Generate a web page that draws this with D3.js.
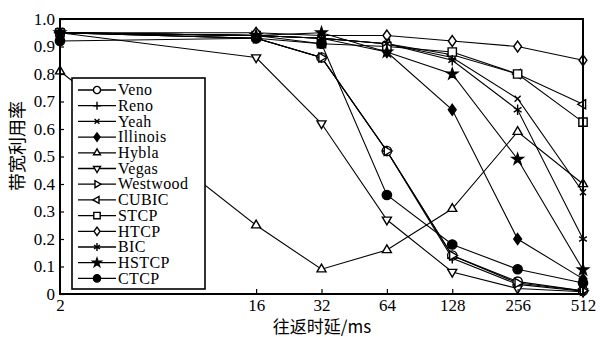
<!DOCTYPE html>
<html>
<head>
<meta charset="utf-8">
<script src="https://cdn.jsdelivr.net/npm/d3@7"></script>
<style>
  html, body { margin: 0; padding: 0; background: #fff; }
  svg { display: block; }
</style>
</head>
<body>
<svg id="chart" width="600" height="337"></svg>
<script>
// Round-trip delay (ms) sampled for each congestion-control algorithm
const delays = [2, 16, 32, 64, 128, 256, 512];
const xTickValues = [2, 16, 32, 64, 128, 256, 512];
const yTickValues = [0, 0.1, 0.2, 0.3, 0.4, 0.5, 0.6, 0.7, 0.8, 0.9, 1.0];

const algorithms = ["Veno", "Reno", "Yeah", "Illinois", "Hybla", "Vegas", "Westwood",
                    "CUBIC", "STCP", "HTCP", "BIC", "HSTCP", "CTCP"];

// Bandwidth utilisation for each algorithm, one value per delay
const veno     = [0.95, 0.93, 0.86, 0.52, 0.14, 0.045, 0.012];
const reno     = [0.95, 0.93, 0.86, 0.52, 0.13, 0.035, 0.010];
const yeah     = [0.95, 0.94, 0.93, 0.91, 0.86, 0.71, 0.37];
const illinois = [0.95, 0.94, 0.93, 0.88, 0.67, 0.20, 0.055];
const hybla    = [0.81, 0.25, 0.09, 0.16, 0.31, 0.59, 0.40];
const vegas    = [0.95, 0.86, 0.62, 0.27, 0.08, 0.02, 0.008];
const westwood = [0.95, 0.93, 0.86, 0.52, 0.14, 0.04, 0.012];
const cubic    = [0.95, 0.94, 0.93, 0.91, 0.87, 0.80, 0.69];
const stcp     = [0.95, 0.94, 0.91, 0.90, 0.88, 0.80, 0.625];
const htcp     = [0.95, 0.95, 0.94, 0.94, 0.92, 0.90, 0.85];
const bic      = [0.95, 0.94, 0.93, 0.91, 0.85, 0.67, 0.20];
const hstcp    = [0.95, 0.94, 0.95, 0.88, 0.80, 0.49, 0.088];
const ctcp     = [0.92, 0.93, 0.91, 0.36, 0.18, 0.09, 0.04];

const seriesValues = [veno, reno, yeah, illinois, hybla, vegas, westwood,
                      cubic, stcp, htcp, bic, hstcp, ctcp];
const markerKinds = ["circle", "plus", "x", "fdiamond", "triUp", "triDown", "triRight",
                     "triLeft", "square", "diamond", "asterisk", "star", "fcircle"];

const SERIF = "'Liberation Serif', 'Times New Roman', 'DejaVu Serif', serif";
const CJK = "'Noto Sans CJK SC', sans-serif";

const svg = d3.select("#chart");
const plot = { left: 60, right: 583, top: 19, bottom: 294 };

const x = d3.scaleLog().base(2).domain([2, 512]).range([plot.left, plot.right]);
const y = d3.scaleLinear().domain([0, 1]).range([plot.bottom, plot.top]);

// Marker path builders, centred on the origin
function markerPath(kind, r) {
  const tri = (angles) => "M" + angles.map(a => [r * Math.cos(a), r * Math.sin(a)].join(",")).join("L") + "Z";
  const d2r = Math.PI / 180;
  switch (kind) {
    case "circle":
    case "fcircle":
      return d3.symbol(d3.symbolCircle, Math.PI * r * r * 0.8)();
    case "square": {
      const s = r * 0.8;
      return `M${-s},${-s}L${s},${-s}L${s},${s}L${-s},${s}Z`;
    }
    case "diamond":
    case "fdiamond": {
      const w = r * 0.75, h = r * 1.05;
      return `M0,${-h}L${w},0L0,${h}L${-w},0Z`;
    }
    case "triUp":    return tri([-90 * d2r, 30 * d2r, 150 * d2r]);
    case "triDown":  return tri([90 * d2r, 210 * d2r, 330 * d2r]);
    case "triRight": return tri([0, 120 * d2r, 240 * d2r]);
    case "triLeft":  return tri([180 * d2r, 300 * d2r, 60 * d2r]);
    case "plus":     return `M0,${-r}L0,${r}M${-r},0L${r},0`;
    case "x": {
      const s = r * 0.6;
      return `M${-s},${-s}L${s},${s}M${-s},${s}L${s},${-s}`;
    }
    case "asterisk": {
      const s = r * 0.75;
      return `M0,${-r}L0,${r}M${-s},${-s * 0.6}L${s},${s * 0.6}M${-s},${s * 0.6}L${s},${-s * 0.6}`;
    }
    case "star":
      return d3.symbol(d3.symbolStar, r * r * 1.4)();
  }
}
const filledKinds = new Set(["fcircle", "fdiamond", "star"]);
const openKinds = new Set(["circle", "square", "diamond", "triUp", "triDown", "triRight", "triLeft"]);

function drawMarker(g, kind, cx, cy, r) {
  const p = g.append("path")
    .attr("d", markerPath(kind, r))
    .attr("transform", `translate(${cx},${cy})`)
    .attr("stroke", "#000")
    .attr("stroke-width", 1.4);
  if (filledKinds.has(kind)) p.attr("fill", "#000");
  else if (openKinds.has(kind)) p.attr("fill", "#fff");
  else p.attr("fill", "none");
}

// Series lines and markers
const line = d3.line().x((d, i) => x(delays[i])).y(d => y(d));
const seriesG = svg.append("g");
seriesValues.forEach((vals) => {
  seriesG.append("path")
    .datum(vals)
    .attr("d", line)
    .attr("fill", "none")
    .attr("stroke", "#000")
    .attr("stroke-width", 1.1);
});
seriesValues.forEach((vals, si) => {
  const kind = markerKinds[si];
  vals.forEach((v, i) => drawMarker(seriesG, kind, x(delays[i]), y(v), kind === "x" ? 5 : 5.2));
});

// Axes with inward ticks
const xAxis = d3.axisBottom(x).tickValues(xTickValues).tickSize(-5).tickPadding(3)
  .tickFormat(d3.format("d"));
const gx = svg.append("g").attr("transform", `translate(0,${plot.bottom})`).call(xAxis);
const yAxis = d3.axisLeft(y).tickValues(yTickValues).tickSize(-4).tickPadding(5)
  .tickFormat(d => d === 0 ? "0" : d3.format(".1f")(d));
const gy = svg.append("g").attr("transform", `translate(${plot.left},0)`).call(yAxis);
[gx, gy].forEach(g => {
  g.attr("font-family", null).attr("font-size", null);
  g.select(".domain").remove();
  g.selectAll(".tick line").attr("stroke", "#000").attr("stroke-width", 1.2);
  g.selectAll(".tick text")
    .attr("fill", "#000")
    .style("font-family", SERIF)
    .style("font-size", "17px");
});
gx.selectAll(".tick text").attr("dy", "0.8em");
gx.selectAll(".tick").filter(d => d === 2 || d === 512).select("line").remove();

// Plot frame
svg.append("rect")
  .attr("x", plot.left).attr("y", plot.top)
  .attr("width", plot.right - plot.left).attr("height", plot.bottom - plot.top)
  .attr("fill", "none").attr("stroke", "#000").attr("stroke-width", 2);

// Legend
const lg = svg.append("g");
lg.append("rect")
  .attr("x", 72).attr("y", 78).attr("width", 133).attr("height", 211)
  .attr("fill", "#fff").attr("stroke", "#000").attr("stroke-width", 1.6);
algorithms.forEach((name, i) => {
  const cy = 90 + i * 15.7;
  lg.append("line").attr("x1", 78).attr("x2", 116).attr("y1", cy).attr("y2", cy)
    .attr("stroke", "#000").attr("stroke-width", 1.3);
  drawMarker(lg, markerKinds[i], 97, cy, 4);
  lg.append("text")
    .attr("x", 118).attr("y", cy).attr("dy", "0.33em")
    .style("font-family", SERIF).style("font-size", "16px")
    .style("letter-spacing", "0.4px")
    .text(name);
});

// Axis titles
svg.append("text")
  .attr("x", 322).attr("y", 333).attr("text-anchor", "middle")
  .style("font-family", CJK).style("font-size", "17px")
  .text("往返时延/ms");
svg.append("text")
  .attr("transform", "translate(24,146) rotate(-90)")
  .attr("text-anchor", "middle")
  .style("font-family", CJK).style("font-size", "18px")
  .text("带宽利用率");
</script>
</body>
</html>
